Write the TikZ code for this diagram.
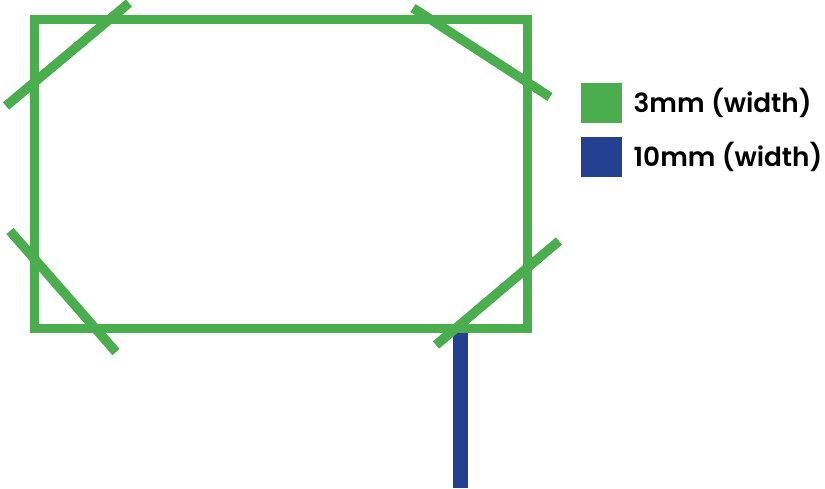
\documentclass[tikz,border=0pt]{standalone}
\usepackage{fontspec}
\setmainfont{Poppins}[BoldFont={Poppins SemiBold}]
\usepackage{tikz}
\usetikzlibrary{positioning}

\definecolor{framegreen}{RGB}{74,173,78}
\definecolor{postblue}{RGB}{36,64,145}

\tikzset{
    frame/.style = {draw=framegreen, line width=0.18cm},
    brace/.style = {draw=framegreen, line width=0.19cm},
    post/.style = {draw=postblue, line width=0.29cm},
    swatch/.style = {minimum width=0.82cm, minimum height=0.8cm, inner sep=0pt},
    legendtext/.style = {anchor=west, inner sep=0pt, font=\fontsize{15}{18}\selectfont\bfseries}
}

\begin{document}
\begin{tikzpicture}[x=0.02cm, y=-0.02cm]
                    \useasboundingbox (0,0) rectangle (825,488);
                    \path
                        (34.5, 19.0) coordinate (TL)
                        (527.0, 19.0) coordinate (TR)
                        (527.0, 328.5) coordinate (BR)
                        (34.5, 328.5) coordinate (BL)
                        (460.5, 330.0) coordinate (P1)
                        (460.5, 488.0) coordinate (P2)
                    ;
                    \draw[post] (P1) -- (P2);
                    \draw[frame] (TL) -- (TR) -- (BR) -- (BL) -- cycle;
                    \draw[brace] (6, 106) -- (129, 3);
                    \draw[brace] (413, 8) -- (550, 97);
                    \draw[brace] (10, 231) -- (116, 352);
                    \draw[brace] (436, 345) -- (559, 241);

                    \draw
                        (601.5, 103.0) node[swatch, fill=framegreen](G){}
                        (601.5, 156.5) node[swatch, fill=postblue](B){}
                    ;
                    \node[legendtext, right=0.22cm of G] (GT) {3mm (width)};
                    \node[legendtext, right=0.22cm of B] (BT) {10mm (width)};

                \end{tikzpicture}
\end{document}
